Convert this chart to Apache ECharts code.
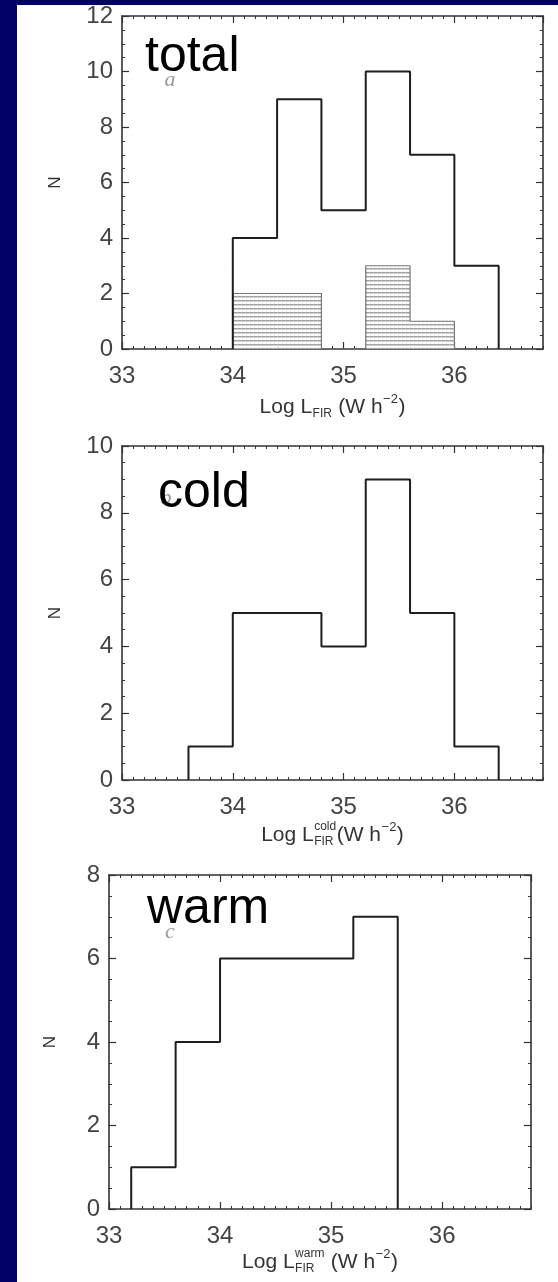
<!DOCTYPE html>
<html><head><meta charset="utf-8">
<script src="https://cdn.jsdelivr.net/npm/echarts@6/dist/echarts.min.js"></script>
<style>html,body{margin:0;padding:0;background:#000066;}#c{width:558px;height:1282px;}</style>
</head><body><div id="c"></div>
<script>
// ---------- data ----------
const binWidth = 0.4;
const xTickLabels = [33, 34, 35, 36];
const totalBins = [34.0, 34.4, 34.8, 35.2, 35.6, 36.0];
const totalN    = [4, 9, 5, 10, 7, 3];
const hatchBins = [34.0, 34.4, 34.8, 35.2, 35.6];
const hatchN    = [2, 2, 0, 3, 1];
const coldBins  = [33.6, 34.0, 34.4, 34.8, 35.2, 35.6, 36.0];
const coldN     = [1, 5, 5, 4, 9, 5, 1];
const warmBins  = [33.2, 33.6, 34.0, 34.4, 34.8, 35.2];
const warmN     = [1, 4, 6, 6, 6, 7];
const yMaxes    = [12, 10, 8];
const panelNames = ['total', 'cold', 'warm'];
const panelLetters = ['a', 'b', 'c'];

// ---------- layout ----------
const FONT = 'Liberation Sans';
const grids = [
  {left: 122, top: 16,  width: 421, height: 333},
  {left: 122, top: 446, width: 421, height: 334},
  {left: 109, top: 875, width: 422, height: 334}
];
const titleY = [407, 835, 1262];
const bigLabelPos = [[145, 57], [158, 493], [147, 909]];
const letterPos = [[170, 80], [166, 498], [170, 932]];
const nameGaps = [58, 58, 50];

const AX = '#333', LW = 1.6;

function stepPoints(bins, n) {
  const pts = [[bins[0], 0]];
  bins.forEach((b, i) => pts.push([b, n[i]]));
  pts.push([bins[bins.length - 1] + binWidth, 0]);
  return pts;
}

// hatch pattern
const pc = document.createElement('canvas');
pc.width = 4; pc.height = 4;
const pctx = pc.getContext('2d');
pctx.fillStyle = '#fff'; pctx.fillRect(0, 0, 4, 4);
pctx.fillStyle = '#a0a0a0'; pctx.fillRect(0, 0, 4, 1);
pctx.fillStyle = '#cfcfcf'; pctx.fillRect(0, 1, 4, 1);
pctx.fillStyle = '#b8b8b8'; pctx.fillRect(1, 0, 1, 1);
pctx.fillStyle = '#e6e6e6'; pctx.fillRect(2, 3, 1, 1);
const hatchPattern = {image: pc, repeat: 'repeat'};

const xAxes = [], yAxes = [], series = [];
grids.forEach((g, gi) => {
  ['bottom', 'top'].forEach(pos => {
    xAxes.push({
      gridIndex: gi, type: 'value', min: 33, max: 36.8, interval: 1, position: pos,
      axisLine: {show: true, onZero: false, lineStyle: {color: AX, width: LW}},
      axisTick: {show: true, inside: true, length: 7, lineStyle: {color: AX, width: 1.2}},
      axisLabel: {show: pos === 'bottom', fontSize: 24, fontFamily: FONT, color: '#444', margin: 15,
        showMaxLabel: false, formatter: v => (xTickLabels.indexOf(Math.round(v)) >= 0 && Math.abs(v - Math.round(v)) < 1e-6) ? String(Math.round(v)) : ''},
      splitLine: {show: false}
    });
    xAxes.push({
      gridIndex: gi, type: 'value', min: 33, max: 36.8, interval: 0.1, position: pos,
      axisLine: {show: false, onZero: false},
      axisTick: {show: true, inside: true, length: 3, lineStyle: {color: AX, width: 1}},
      axisLabel: {show: false}, splitLine: {show: false}
    });
  });
  ['left', 'right'].forEach(pos => {
    yAxes.push({
      gridIndex: gi, type: 'value', min: 0, max: yMaxes[gi], interval: 2, position: pos,
      axisLine: {show: true, onZero: false, lineStyle: {color: AX, width: LW}},
      axisTick: {show: true, inside: true, length: 7, lineStyle: {color: AX, width: 1.2}},
      minorTick: {show: true, splitNumber: 4, length: 3, lineStyle: {color: AX, width: 1}},
      axisLabel: {show: pos === 'left', fontSize: 24, fontFamily: FONT, color: '#444', margin: 9},
      splitLine: {show: false}, minorSplitLine: {show: false},
      name: pos === 'left' ? 'N' : '', nameLocation: 'middle', nameGap: nameGaps[gi],
      nameTextStyle: {fontSize: 17, fontFamily: FONT, color: '#333'}
    });
  });
});

const hists = [[totalBins, totalN], [coldBins, coldN], [warmBins, warmN]];

// hatched sub-sample (panel a)
series.push({
  type: 'custom', xAxisIndex: 0, yAxisIndex: 0, z: 2, animation: false,
  data: hatchBins.map((b, i) => [b, hatchN[i]]),
  encode: {x: 0, y: 1},
  renderItem: (params, api) => {
    const x0 = api.value(0), n = api.value(1);
    if (!n) return;
    const p0 = api.coord([x0, n]);
    const p1 = api.coord([x0 + binWidth, 0]);
    return {type: 'rect', shape: {x: p0[0], y: p0[1], width: p1[0] - p0[0], height: p1[1] - p0[1]},
      style: {fill: hatchPattern}};
  }
});
series.push({
  type: 'line', xAxisIndex: 0, yAxisIndex: 0, step: 'end', symbol: 'none', z: 3, animation: false,
  data: stepPoints(hatchBins, hatchN), lineStyle: {color: '#777', width: 1.2}
});
hists.forEach((h, gi) => {
  series.push({
    type: 'line', xAxisIndex: gi * 4, yAxisIndex: gi * 2, step: 'end', symbol: 'none', z: 4,
    animation: false, data: stepPoints(h[0], h[1]), lineStyle: {color: '#1e1e1e', width: 2}
  });
});

// ---------- graphic texts ----------
const mc = document.createElement('canvas').getContext('2d');
function tw(t, s) { mc.font = s + 'px "' + FONT + '"'; return mc.measureText(t).width; }
function titleParts(gi) {
  const up = ['', 'cold', 'warm'][gi];
  const sep = gi === 1 ? '' : ' ';
  return [
    {t: 'Log L', s: 21},
    up ? {sup: up, sub: 'FIR', s: 12} : {sub: 'FIR', s: 12},
    {t: sep + '(W h', s: 21},
    {sup: '\u22122', s: 13},
    {t: ')', s: 21}
  ];
}
const graphics = [{type: 'rect', z: -10, silent: true, shape: {x: 17, y: 5, width: 541, height: 1277}, style: {fill: '#fff'}}];
grids.forEach((g, gi) => {
  const parts = titleParts(gi);
  const widths = parts.map(p => p.t !== undefined ? tw(p.t, p.s) : Math.max(p.sup ? tw(p.sup, p.s) : 0, p.sub ? tw(p.sub, p.s) : 0) + 1);
  const total = widths.reduce((a, b) => a + b, 0);
  let x = g.left + g.width / 2 - total / 2;
  const cy = titleY[gi];
  parts.forEach((p, i) => {
    const st = {fontFamily: FONT, fill: '#333', align: 'left', verticalAlign: 'middle'};
    if (p.t !== undefined) graphics.push({type: 'text', x: x, y: cy, style: Object.assign({text: p.t, fontSize: p.s}, st)});
    if (p.sup) graphics.push({type: 'text', x: x + 0.5, y: cy - 8, style: Object.assign({text: p.sup, fontSize: p.s}, st)});
    if (p.sub) graphics.push({type: 'text', x: x + 0.5, y: cy + 7, style: Object.assign({text: p.sub, fontSize: p.s}, st)});
    x += widths[i];
  });
  graphics.push({type: 'text', x: letterPos[gi][0], y: letterPos[gi][1], style: {text: panelLetters[gi], fontSize: 22, fontFamily: 'Liberation Serif', fontStyle: 'italic', fill: '#9a9a9a', align: 'center', verticalAlign: 'middle'}});
  graphics.push({type: 'text', x: bigLabelPos[gi][0], y: bigLabelPos[gi][1], style: {text: panelNames[gi], fontSize: 50, fontFamily: FONT, fill: '#000', align: 'left', verticalAlign: 'middle'}});
});

const chart = echarts.init(document.getElementById('c'), null, {renderer: 'canvas'});
chart.setOption({
  backgroundColor: '#000066',
  animation: false,
  grid: grids.map(g => Object.assign({containLabel: false, outerBoundsMode: 'none'}, g)),
  xAxis: xAxes,
  yAxis: yAxes,
  series: series,
  graphic: {elements: graphics}
});
</script></body></html>
